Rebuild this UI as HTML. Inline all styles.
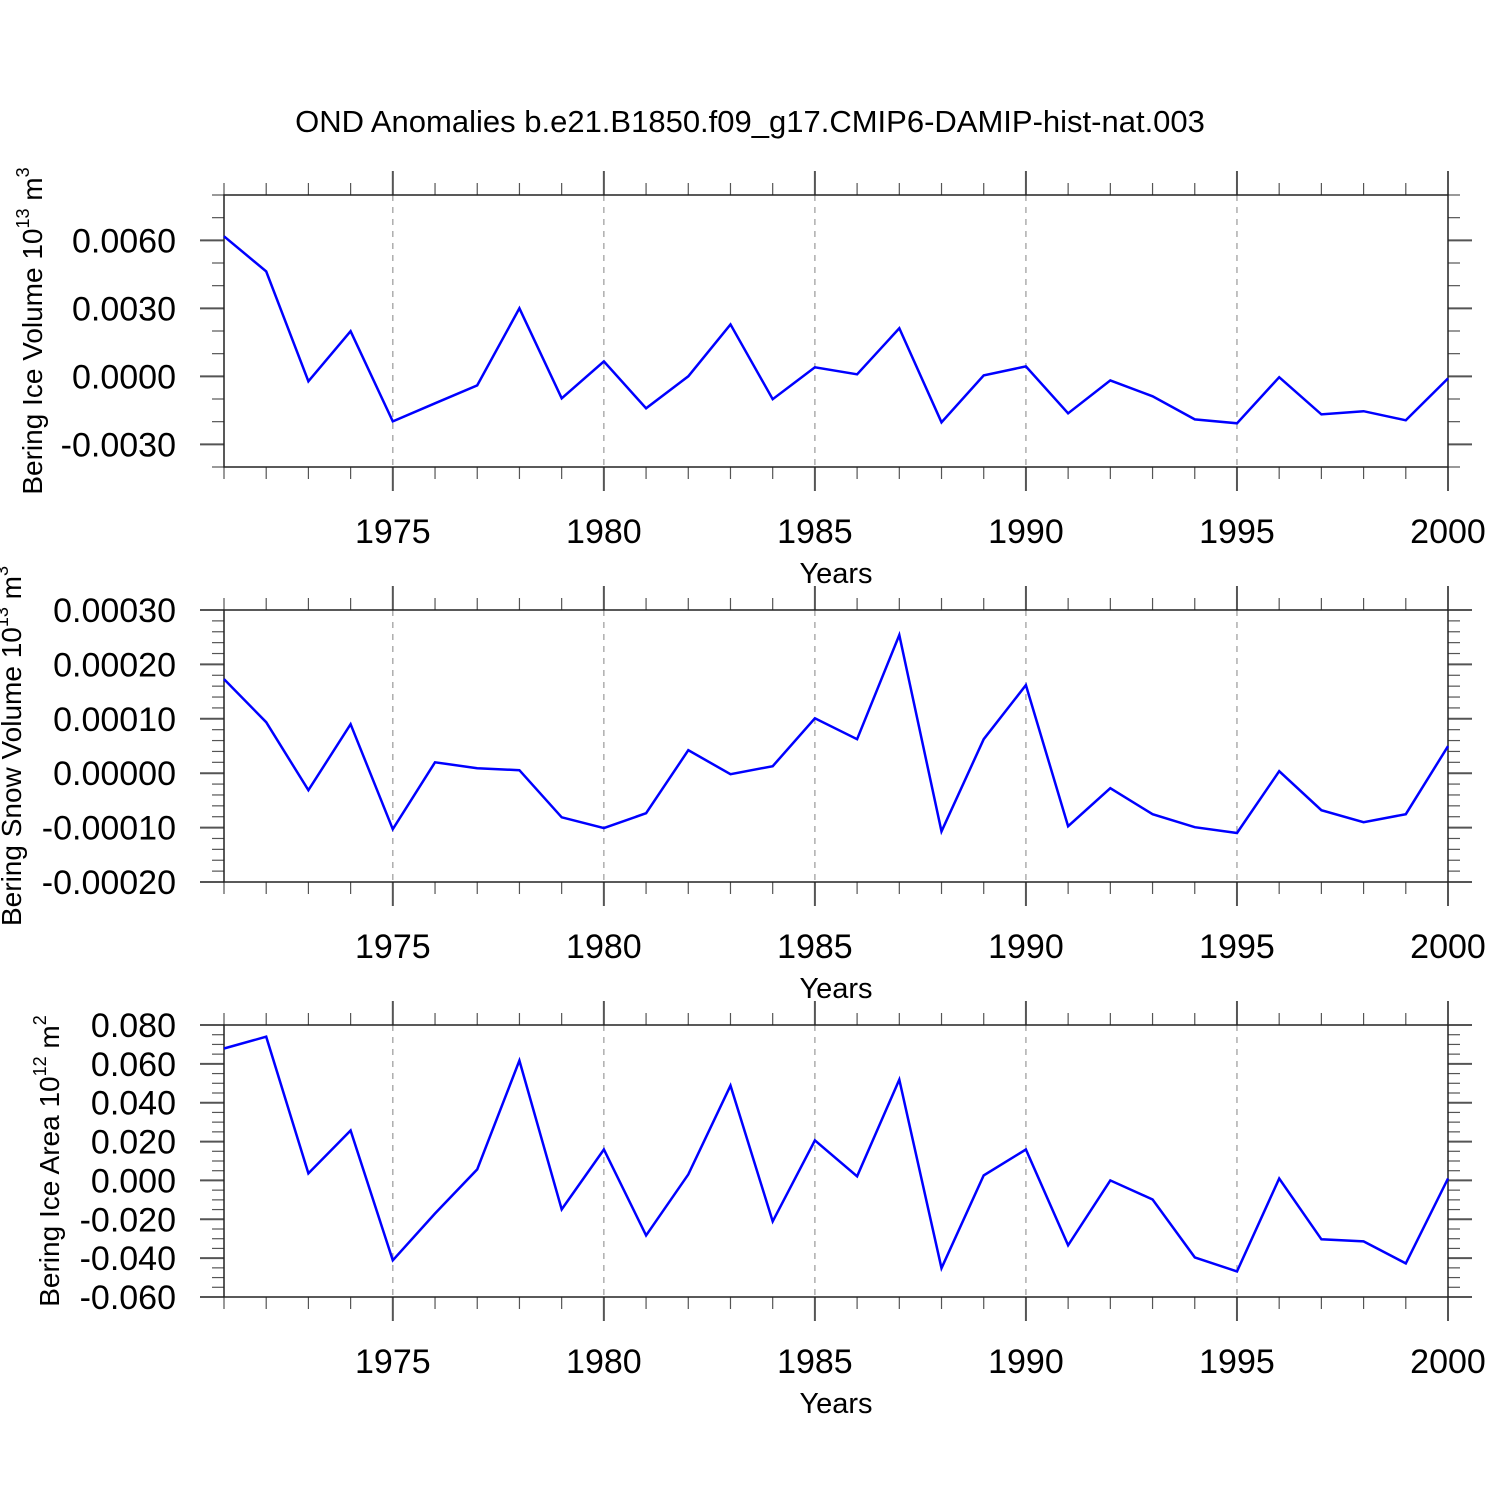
<!DOCTYPE html>
<html><head><meta charset="utf-8"><style>
body{margin:0;background:#fff}
svg{font-family:"Liberation Sans",Arial,sans-serif}
</style></head><body>
<svg id="chart" width="1500" height="1500" xmlns="http://www.w3.org/2000/svg">
<rect width="1500" height="1500" fill="#fff"/>
<text x="750" y="132" font-size="31" text-anchor="middle">OND Anomalies b.e21.B1850.f09_g17.CMIP6-DAMIP-hist-nat.003</text>
</svg>
<script>
const years=[1971,1972,1973,1974,1975,1976,1977,1978,1979,1980,1981,1982,1983,1984,1985,1986,1987,1988,1989,1990,1991,1992,1993,1994,1995,1996,1997,1998,1999,2000];
const iceVolume=[0.00618,0.00463,-0.00022,0.00199,-0.00199,-0.00119,-0.0004,0.003,-0.00097,0.00066,-0.00141,0,0.00229,-0.00101,0.0004,0.00009,0.00212,-0.00203,0.00004,0.00044,-0.00163,-0.00018,-0.00088,-0.0019,-0.00207,-0.00004,-0.00168,-0.00154,-0.00194,-0.00009];
const snowVolume=[0.000173,0.0000938,-0.0000313,0.00009,-0.000103,0.00002,0.0000092,0.0000055,-0.000081,-0.000101,-0.0000735,0.0000423,-0.0000018,0.0000129,0.000101,0.0000625,0.000254,-0.000107,0.0000625,0.000162,-0.0000974,-0.0000276,-0.0000754,-0.0000993,-0.00011,0.0000037,-0.000068,-0.00009,-0.0000754,0.0000496];
const iceArea=[0.0679,0.074,0.0036,0.0257,-0.0411,-0.017,0.0057,0.0617,-0.0149,0.0159,-0.0283,0.0031,0.0488,-0.0211,0.0206,0.0021,0.0519,-0.0452,0.0026,0.0159,-0.0334,0,-0.0098,-0.0396,-0.0468,0.001,-0.0303,-0.0314,-0.0427,0.001];
const xTickLabels=[1975,1980,1985,1990,1995,2000];
const yTicks1=["0.0060","0.0030","0.0000","-0.0030"];
const yTicks2=["0.00030","0.00020","0.00010","0.00000","-0.00010","-0.00020"];
const yTicks3=["0.080","0.060","0.040","0.020","0.000","-0.020","-0.040","-0.060"];

const NS="http://www.w3.org/2000/svg";
const svg=document.getElementById('chart');
const X0=224,X1=1448;
function xs(y){return X0+(y-1971)/(2000-1971)*(X1-X0);}
function mk(tag,attrs,parent){const e=document.createElementNS(NS,tag);for(const k in attrs)e.setAttribute(k,attrs[k]);(parent||svg).appendChild(e);return e;}

const panels=[
 {top:195,bot:467,min:-0.004,max:0.008,minor:0.001,ticks:yTicks1,data:iceVolume,title:"Bering Ice Volume 10",sup:"13",unit:" m",usup:"3",tx:42,name:"ice-volume"},
 {top:610,bot:882,min:-0.0002,max:0.0003,minor:0.00002,ticks:yTicks2,data:snowVolume,title:"Bering Snow Volume 10",sup:"13",unit:" m",usup:"3",tx:21,name:"snow-volume"},
 {top:1025,bot:1297,min:-0.06,max:0.08,minor:0.005,ticks:yTicks3,data:iceArea,title:"Bering Ice Area 10",sup:"12",unit:" m",usup:"2",tx:59,name:"ice-area"}
];
panels.forEach(p=>{
 const g=mk('g',{});
 
 
 const ys=v=>p.bot-(v-p.min)/(p.max-p.min)*(p.bot-p.top);
 xTickLabels.forEach(y=>{if(y<2000){const l=mk('line',{x1:xs(y),x2:xs(y),y1:p.top,y2:p.bot,stroke:'#999','stroke-width':1.2,'stroke-dasharray':'6,6'},g);
 
 }});
 years.forEach(y=>{const maj=y%5===0;const L=maj?24:12;const x=xs(y);
  mk('line',{x1:x,x2:x,y1:p.top,y2:p.top-L,stroke:'#555','stroke-width':maj?2:1.2},g);
  mk('line',{x1:x,x2:x,y1:p.bot,y2:p.bot+L,stroke:'#555','stroke-width':maj?2:1.2},g);});
 const n=Math.round((p.max-p.min)/p.minor);
 const majorVals=p.ticks.map(Number);
 for(let i=0;i<=n;i++){const v=p.min+i*p.minor;const y=ys(v);
  const maj=majorVals.some(m=>Math.abs(m-v)<p.minor/10);const L=maj?24:12;
  mk('line',{x1:X0,x2:X0-L,y1:y,y2:y,stroke:'#555','stroke-width':maj?2:1.2},g);
  mk('line',{x1:X1,x2:X1+L,y1:y,y2:y,stroke:'#555','stroke-width':maj?2:1.2},g);}
 p.ticks.forEach(t=>{const tx=mk('text',{x:X0-48,y:ys(Number(t))+12,'font-size':34,'text-anchor':'end'},g);tx.textContent=t;
  
  });
 xTickLabels.forEach(t=>{const tx=mk('text',{x:xs(t),y:p.bot+76,'font-size':34,'text-anchor':'middle'},g);tx.textContent=t;
  
  });
 const xt=mk('text',{x:836,y:p.bot+116,'font-size':29,'text-anchor':'middle'},g);xt.textContent='Years';
 
 
 const cy=(p.top+p.bot)/2;
 const yt=mk('text',{x:p.tx,y:cy,'font-size':28,'text-anchor':'middle',transform:`rotate(-90 ${p.tx} ${cy})`},g);
 
 
 yt.innerHTML=`${p.title}<tspan font-size="18" dy="-13">${p.sup}</tspan><tspan dy="13">${p.unit}</tspan><tspan font-size="18" dy="-13">${p.usup}</tspan>`;
 const fr=mk('rect',{x:X0,y:p.top,width:X1-X0,height:p.bot-p.top,fill:'none',stroke:'#222','stroke-width':1.5},g);
 
 
 const pts=p.data.map((v,i)=>xs(years[i]).toFixed(1)+','+ys(v).toFixed(1)).join(' ');
 const pl=mk('polyline',{points:pts,fill:'none',stroke:'#0000ff','stroke-width':2.5},g);
 
 
});
</script>
</body></html>
